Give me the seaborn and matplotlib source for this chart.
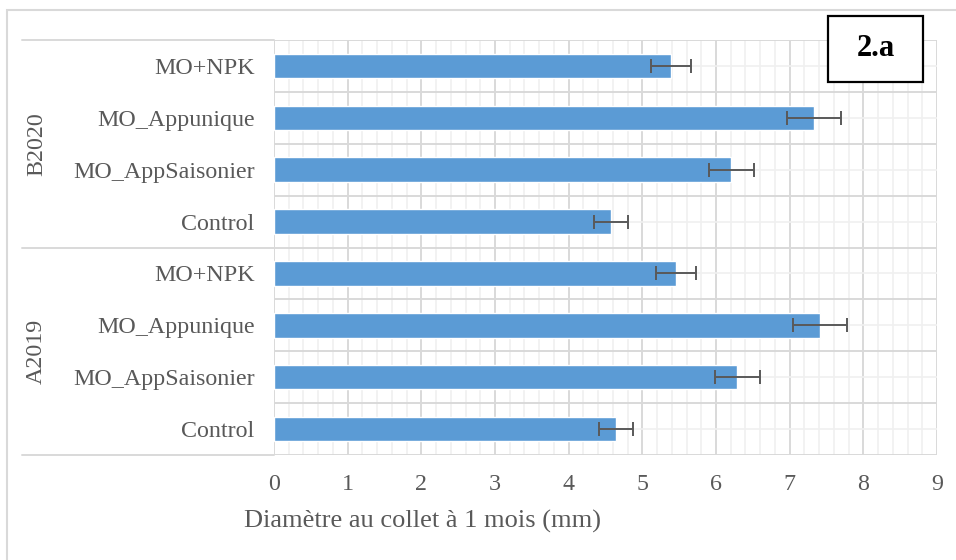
import numpy as np
import pandas as pd
import matplotlib
matplotlib.use("Agg")
import matplotlib.pyplot as plt
from matplotlib.patches import Rectangle
from matplotlib.lines import Line2D
import seaborn as sns

# Data: stem collar diameter after one month (mm), mean and error
groups = ["B2020", "A2019"]
treatments = ["MO+NPK", "MO_Appunique", "MO_AppSaisonier", "Control"]
means_b2020 = [5.39, 7.33, 6.21, 4.57]
errs_b2020 = [0.27, 0.37, 0.31, 0.23]
means_a2019 = [5.46, 7.41, 6.29, 4.64]
errs_a2019 = [0.27, 0.37, 0.31, 0.23]
x_ticks = [0, 1, 2, 3, 4, 5, 6, 7, 8, 9]
x_label = "Diamètre au collet à 1 mois (mm)"
panel_tag = "2.a"

rows = []
for g, m, e in zip(groups, [means_b2020, means_a2019], [errs_b2020, errs_a2019]):
    for t, mv, ev in zip(treatments, m, e):
        rows.append({"key": f"{g}|{t}", "group": g, "treatment": t, "mean": mv, "err": ev})
df = pd.DataFrame(rows)

sns.set_theme(style="white")
plt.rcParams["font.family"] = ["Liberation Serif", "DejaVu Serif"]
text_color = "#595959"
major_grid = "#d9d9d9"
minor_grid = "#f0f0f0"

fig = plt.figure(figsize=(9.56, 5.60), dpi=100)
ax = fig.add_axes([274 / 956, 1 - 455 / 560, (937 - 274) / 956, (455 - 40) / 560])

sns.barplot(data=df, x="mean", y="key", orient="h", color="#5B9BD5",
            saturation=1, width=0.47, errorbar=None, ax=ax, zorder=3)
ypos = np.arange(len(df))
ax.errorbar(df["mean"], ypos, xerr=df["err"], fmt="none", ecolor="#595959",
            elinewidth=1.4, capsize=5, capthick=1.4, zorder=4)

ax.set_xlim(0, 9)
ax.set_ylim(len(df) - 0.5, -0.5)
ax.set_xticks(x_ticks)
ax.set_xticks(np.arange(0, 9.001, 0.2), minor=True)
ax.set_yticks(ypos)
ax.set_yticks(np.arange(len(df) + 1) - 0.5, minor=True)
ax.set_yticklabels(df["treatment"])
ax.set_xticklabels([str(v) for v in x_ticks])
ax.tick_params(axis="both", which="both", length=0)
ax.tick_params(axis="y", pad=14, labelsize=17.3, labelcolor=text_color)
ax.tick_params(axis="x", pad=14, labelsize=17.3, labelcolor=text_color)

ax.grid(False)
ax.grid(True, which="minor", axis="x", color=minor_grid, lw=1.2, zorder=0)
ax.grid(True, which="major", axis="x", color=major_grid, lw=1.4, zorder=1)
ax.grid(True, which="major", axis="y", color=minor_grid, lw=1.2, zorder=0)
ax.grid(True, which="minor", axis="y", color=major_grid, lw=1.4, zorder=1)
ax.set_axisbelow(True)
for s in ax.spines.values():
    s.set_visible(False)
ax.set_xlabel("")
ax.set_ylabel("")

# Group separators and group labels on the category axis
n_per = len(treatments)
trans = ax.get_yaxis_transform()
for k in range(len(groups) + 1):
    yb = k * n_per - 0.5
    ax.add_line(Line2D([-0.38, 0], [yb, yb], transform=trans, color=major_grid,
                       lw=1.4, clip_on=False))
for k, g in enumerate(groups):
    yc = k * n_per + (n_per - 1) / 2
    ax.text(-0.358, yc, g, transform=trans, rotation=90, ha="center", va="center",
            fontsize=17.3, color=text_color)

fig.text(244 / 956, 1 - 521 / 560, x_label, ha="left", va="center",
         fontsize=19, color=text_color)

# Outer chart frame
fig.add_artist(Rectangle((7 / 956, -0.1), 1.2, 1 - 10 / 560 + 0.1,
                         transform=fig.transFigure, fill=False,
                         edgecolor=major_grid, lw=1.5))

# Panel tag box
fig.add_artist(Rectangle((828 / 956, 1 - 82 / 560), 95 / 956, 66 / 560,
                         transform=fig.transFigure, facecolor="white",
                         edgecolor="black", lw=1.6, zorder=10))
fig.text(875.5 / 956, 1 - 49 / 560, panel_tag, ha="center", va="center",
         fontsize=22, fontweight="bold", color="black", zorder=11)

fig.savefig("out.png", dpi=100)
